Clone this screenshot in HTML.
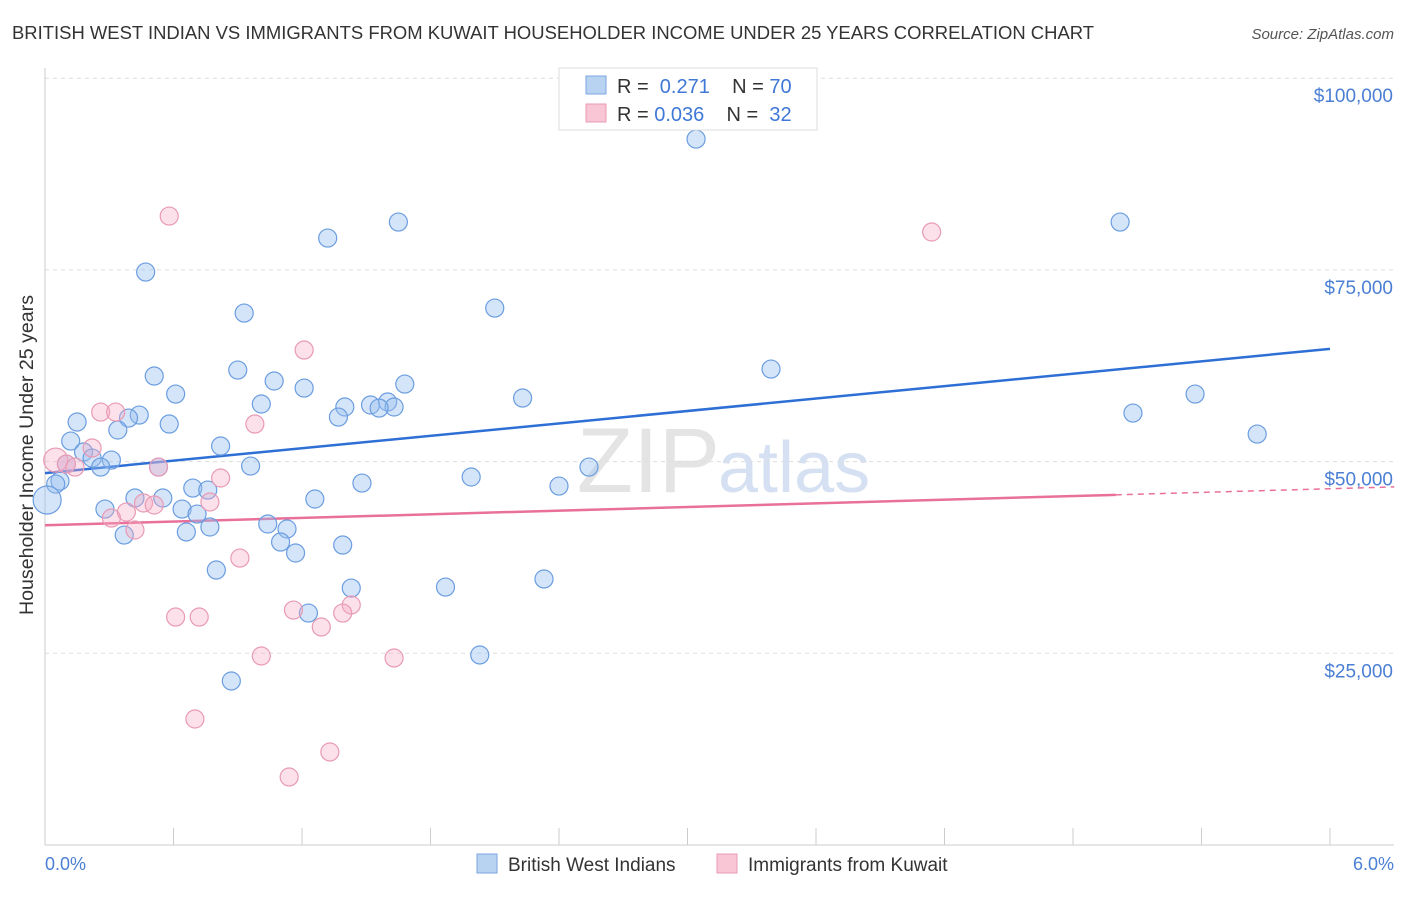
<!DOCTYPE html>
<html><head><meta charset="utf-8"><style>
body{margin:0;background:#fff;font-family:"Liberation Sans",sans-serif}
svg text{font-family:"Liberation Sans",sans-serif}
</style></head><body>
<svg id="chart" width="1406" height="892" xmlns="http://www.w3.org/2000/svg">
<text x="12" y="39" font-size="18" fill="#333" textLength="1082" lengthAdjust="spacingAndGlyphs">BRITISH WEST INDIAN VS IMMIGRANTS FROM KUWAIT HOUSEHOLDER INCOME UNDER 25 YEARS CORRELATION CHART</text>
<text x="1394" y="39" font-size="15" fill="#555" font-style="italic" text-anchor="end">Source: ZipAtlas.com</text>
<text x="720" y="492" font-size="92" fill="#e4e4e4" text-anchor="end" font-family="Liberation Serif">ZIP</text>
<text x="718" y="492" font-size="72" fill="#d5e1f2">atlas</text>
<g id="grid"></g><g id="axes"></g><g id="lines"></g><g id="pts"></g>
<text x="33" y="455" font-size="19" fill="#333" text-anchor="middle" textLength="320" lengthAdjust="spacingAndGlyphs" transform="rotate(-90 33 455)">Householder Income Under 25 years</text>
<text x="45" y="870" font-size="18" fill="#4a7fd4">0.0%</text>
<text x="1394" y="870" font-size="18" fill="#4a7fd4" text-anchor="end">6.0%</text>
<g>
<rect x="559" y="68" width="258" height="62" fill="#fff" stroke="#ddd"/>
<rect x="586" y="76" width="20" height="18" fill="#b8d2f2" stroke="#7aa6e0"/>
<rect x="586" y="104" width="20" height="18" fill="#f9c6d6" stroke="#e89ab5"/>
<text x="617" y="93" font-size="20" fill="#333">R = <tspan fill="#3f78d6">&#160;0.271</tspan>&#160;&#160;&#160;&#160;N = <tspan fill="#3f78d6">70</tspan></text>
<text x="617" y="121" font-size="20" fill="#333">R = <tspan fill="#3f78d6">0.036</tspan>&#160;&#160;&#160;&#160;N = <tspan fill="#3f78d6">&#160;32</tspan></text>
</g>
<g>
<rect x="477" y="854" width="20" height="19" fill="#b8d2f2" stroke="#7aa6e0"/>
<text x="508" y="871" font-size="19" fill="#333">British West Indians</text>
<rect x="717" y="854" width="20" height="19" fill="#f9c6d6" stroke="#e89ab5"/>
<text x="748" y="871" font-size="19" fill="#333">Immigrants from Kuwait</text>
</g>
</svg>
<script>
const yTicks=[25000,50000,75000,100000];
const yTickLabels=["$25,000","$50,000","$75,000","$100,000"];
const blueX=[3.04,5.02,1.65,1.32,0.47,0.93,2.10,3.39,0.90,0.51,1.07,1.68,1.21,0.61,5.37,2.23,1.01,1.40,1.52,1.60,1.63,1.56,5.08,0.44,0.39,1.37,0.58,0.15,0.34,5.66,0.12,0.82,0.18,0.31,0.22,2.54,0.96,0.53,0.26,0.10,1.99,0.07,0.05,1.48,2.40,0.69,0.76,0.01,0.42,0.55,1.26,0.28,0.64,0.71,1.04,1.13,0.77,0.66,0.37,1.10,1.39,1.17,0.80,1.87,1.43,2.33,1.23,2.03,0.87];
const blueY=[92060,81240,81240,79150,74720,69370,70020,62070,61940,61160,60510,60110,59590,58810,58810,58290,57510,57120,57380,57770,57120,56980,56330,56070,55680,55810,54900,55160,54120,53590,52680,52030,51250,50200,50460,49290,49420,49290,49290,49680,47990,47470,47070,47200,46810,46550,46290,44990,45250,45250,45120,43810,43810,43160,41860,41210,41470,40820,40420,39510,39120,38080,35860,33640,33510,34690,30250,24780,21390];
const pinkX=[0.58,4.14,1.21,0.26,0.33,0.98,0.22,0.05,0.10,0.14,0.53,0.82,0.46,0.51,0.77,0.38,0.31,0.42,0.91,0.61,0.72,1.16,1.43,1.39,1.29,1.01,1.63,0.70,1.33,1.14];
const pinkY=[82020,79940,64550,56460,56460,54900,51770,50200,49680,49290,49290,47860,44600,44340,44730,43420,42640,41080,37420,29730,29730,30640,31300,30250,28430,24650,24390,16430,12130,8870];
const blueTrend=[48500,64700];
const pinkTrend=[41700,46700];
const NS="http://www.w3.org/2000/svg";
const X=v=>45+v/6*1285, Y=v=>845-v/25000*191.7;
function mk(tag,attrs,parent){const e=document.createElementNS(NS,tag);for(const k in attrs)e.setAttribute(k,attrs[k]);document.getElementById(parent).appendChild(e);return e;}
yTicks.forEach((t,i)=>{
  const g=mk('line',{x1:45,x2:1394,y1:Y(t),y2:Y(t),stroke:'#ddd','stroke-dasharray':'4,4'},'grid');
  
  
  const l=mk('text',{x:1393,y:Y(t)+24,'font-size':19,fill:'#4a7fd4','text-anchor':'end'},'grid');
  l.textContent=yTickLabels[i];
  
  
});
const ax=mk('line',{x1:45,x2:1394,y1:845,y2:845,stroke:'#ccc'},'axes');


const ay=mk('line',{x1:45,x2:45,y1:68,y2:845,stroke:'#ccc'},'axes');


for(let i=0;i<=10;i++){const t=mk('line',{x1:X(i*0.6),x2:X(i*0.6),y1:828,y2:845,stroke:'#ccc'},'axes');

}
const bl=mk('line',{x1:X(0),y1:Y(blueTrend[0]),x2:X(6),y2:Y(blueTrend[1]),stroke:'#2e6fd6','stroke-width':2.5},'lines');


const pv=x=>pinkTrend[0]+(pinkTrend[1]-pinkTrend[0])*x/6.3;
const pl=mk('line',{x1:X(0),y1:Y(pv(0)),x2:X(5),y2:Y(pv(5)),stroke:'#e8709a','stroke-width':2.5},'lines');


const pd=mk('line',{x1:X(5),y1:Y(pv(5)),x2:X(6.3),y2:Y(pv(6.3)),stroke:'#e8709a','stroke-width':1.5,'stroke-dasharray':'6,5'},'lines');


blueX.forEach((x,i)=>{const c=mk('circle',{cx:X(x),cy:Y(blueY[i]),r:i==47?14:9,fill:'rgba(150,190,240,0.4)',stroke:'#6b9de0','stroke-width':1.2},'pts');

});
pinkX.forEach((x,i)=>{const c=mk('circle',{cx:X(x),cy:Y(pinkY[i]),r:i==7?12:9,fill:'rgba(245,170,195,0.35)',stroke:'#e89ab5','stroke-width':1.2},'pts');

});
</script>
</body></html>
